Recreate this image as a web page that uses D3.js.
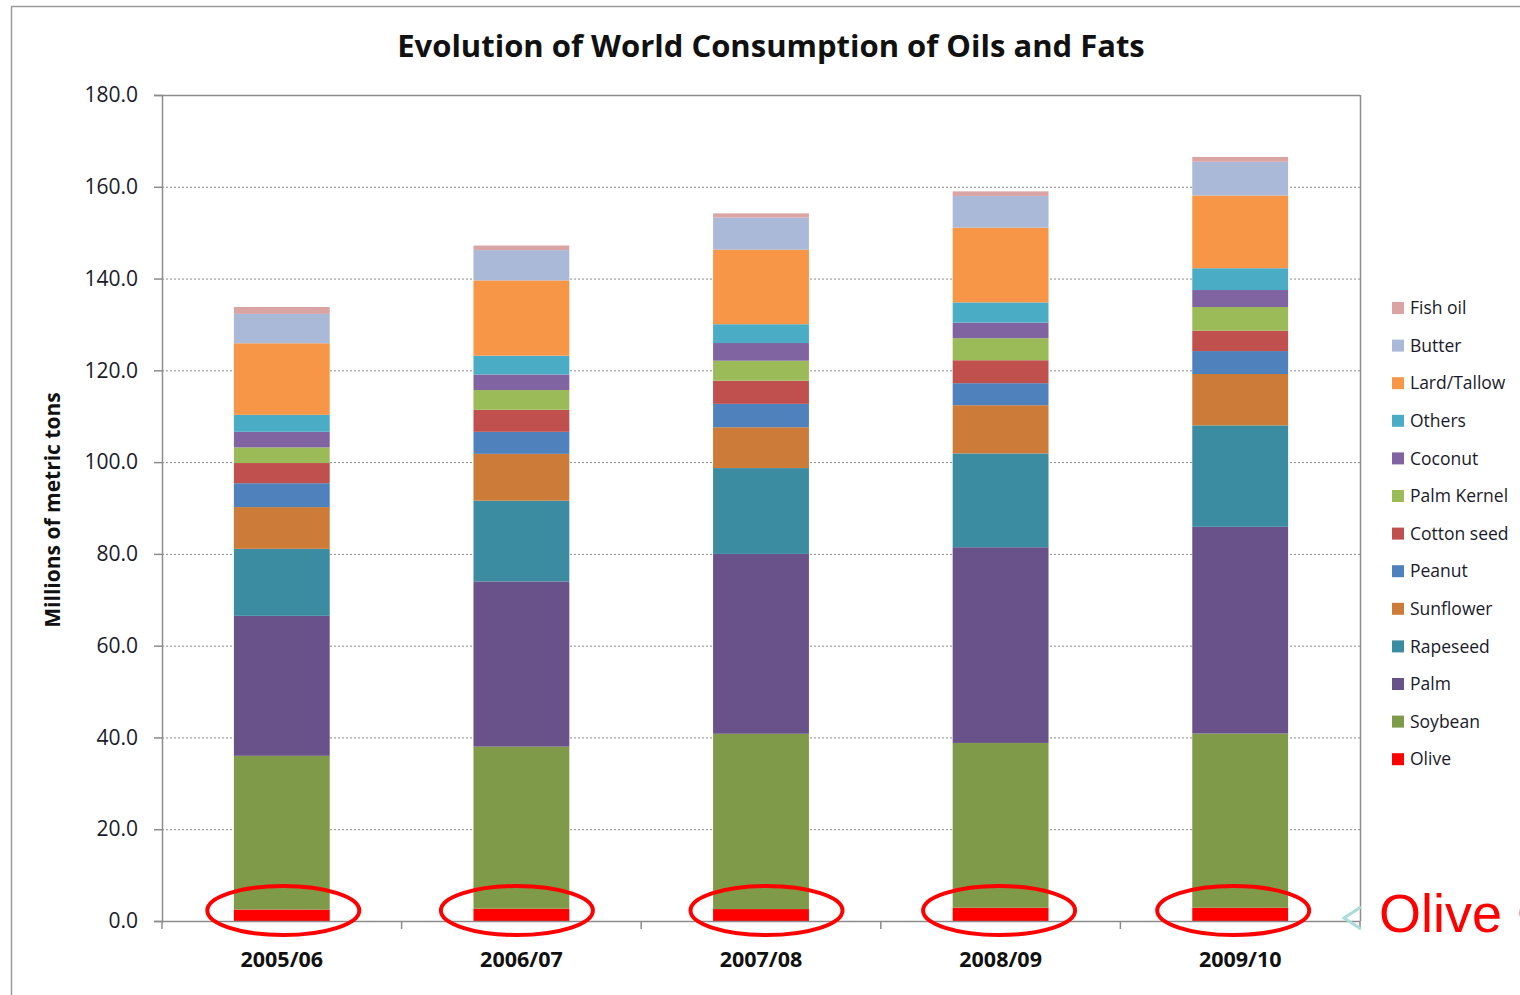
<!DOCTYPE html>
<html><head><meta charset="utf-8">
<script src="https://cdn.jsdelivr.net/npm/d3@7"></script>
<style>body{margin:0;background:#fff;}svg{display:block;}</style>
</head><body>
<svg id="chart" width="1520" height="995"></svg>
<script>
const categories = ["2005/06","2006/07","2007/08","2008/09","2009/10"];
const seriesNames = ["Olive","Soybean","Palm","Rapeseed","Sunflower","Peanut","Cotton seed","Palm Kernel","Coconut","Others","Lard/Tallow","Butter","Fish oil"];
const olive      = [2.5, 2.7, 2.6, 2.9, 2.9];
const soybean    = [33.5, 35.3, 38.2, 35.9, 37.95];
const palm       = [30.5, 36.0, 39.2, 42.65, 45.05];
const rapeseed   = [14.6, 17.6, 18.7, 20.45, 22.1];
const sunflower  = [9.1, 10.2, 8.9, 10.5, 11.2];
const peanut     = [5.2, 4.8, 5.1, 4.8, 5.0];
const cottonseed = [4.4, 4.8, 5.05, 5.0, 4.45];
const palmKernel = [3.4, 4.3, 4.35, 4.8, 5.15];
const coconut    = [3.4, 3.4, 3.85, 3.4, 3.7];
const others     = [3.7, 4.1, 4.1, 4.4, 4.75];
const lardTallow = [15.6, 16.4, 16.25, 16.3, 15.85];
const butter     = [6.4, 6.6, 7.0, 6.9, 7.35];
const fishOil    = [1.5, 1.0, 0.9, 1.0, 1.05];
const yTicks = [0,20,40,60,80,100,120,140,160,180];
const colors = ["#FF0000","#7F9A48","#69518A","#3B8BA1","#CC7B38","#4F81BD","#C0504D","#9BBB59","#8064A2","#4BACC6","#F79646","#AAB9D7","#DBA4A4"];
// hand-drawn annotation ellipses are not exactly centred on the bars
const ellipseShift = [1.5, -4.5, 5.5, -1.5, -7];

const seriesValues = [olive,soybean,palm,rapeseed,sunflower,peanut,cottonseed,palmKernel,coconut,others,lardTallow,butter,fishOil];
const table = categories.map((c,i)=>{const row={cat:c}; seriesNames.forEach((s,j)=>row[s]=seriesValues[j][i]); return row;});
const stacked = d3.stack().keys(seriesNames)(table);

const svg = d3.select("#chart");
const font = "'Open Sans', Lato, sans-serif";
const m = {left:162, top:95, right:1360, bottom:921};

// outer frame
svg.append("rect").attr("x",11.5).attr("y",6.5).attr("width",1600).attr("height",1100)
  .attr("fill","none").attr("stroke","#9a9a9a").attr("stroke-width",1.5);

const x = d3.scaleBand().domain(categories).range([m.left,m.right]).paddingInner(0.6).paddingOuter(0.3);
const xb = d3.scaleBand().domain(categories).range([m.left,m.right]);
const y = d3.scaleLinear().domain([0,180]).range([m.bottom,m.top]);

// gridlines
svg.append("g").selectAll("line").data(yTicks.filter(t=>t>0 && t<180)).join("line")
  .attr("x1",m.left).attr("x2",m.right).attr("y1",d=>y(d)+0.5).attr("y2",d=>y(d)+0.5)
  .attr("stroke","#8c8c8c").attr("stroke-width",1).attr("stroke-dasharray","2,2");

// plot border top & right
svg.append("line").attr("x1",m.left).attr("x2",m.right).attr("y1",m.top+0.5).attr("y2",m.top+0.5).attr("stroke","#8c8c8c").attr("stroke-width",1.5);
svg.append("line").attr("x1",m.right+0.5).attr("x2",m.right+0.5).attr("y1",m.top).attr("y2",m.bottom).attr("stroke","#8c8c8c").attr("stroke-width",1.5);

// bars
svg.append("g").selectAll("g").data(stacked).join("g")
  .attr("fill",(d,i)=>colors[i])
  .selectAll("rect").data(d=>d).join("rect")
  .attr("x",d=>x(d.data.cat)).attr("width",x.bandwidth())
  .attr("y",d=>y(d[1])).attr("height",d=>y(d[0])-y(d[1]));

// y axis
const yAxis = svg.append("g").attr("transform",`translate(${m.left},0)`)
  .call(d3.axisLeft(y).tickValues(yTicks).tickFormat(d3.format(".1f")).tickSize(8).tickPadding(16));
yAxis.select(".domain").attr("stroke","#8c8c8c").attr("stroke-width",1.5);
yAxis.selectAll(".tick line").attr("stroke","#8c8c8c").attr("stroke-width",1.5);
yAxis.selectAll("text").attr("font-family",font).attr("font-size",21).attr("fill","#1a1a2a");

// x axis
const xAxis = svg.append("g").attr("transform",`translate(0,${m.bottom})`)
  .call(d3.axisBottom(x).tickSize(0).tickPadding(31));
xAxis.select(".domain").remove();
xAxis.append("line").attr("x1",m.left).attr("x2",m.right).attr("y1",0.5).attr("y2",0.5).attr("stroke","#8c8c8c").attr("stroke-width",1.5);
xAxis.selectAll("text").attr("font-family",font).attr("font-size",21.5).attr("font-weight","bold").attr("fill","#111");
const bounds = categories.map(c=>xb(c)).concat([m.right]);
xAxis.append("g").selectAll("line").data(bounds).join("line")
  .attr("x1",d=>d).attr("x2",d=>d).attr("y1",0).attr("y2",8).attr("stroke","#8c8c8c").attr("stroke-width",1.5);

// title
svg.append("text").attr("x",771).attr("y",57).attr("text-anchor","middle")
  .attr("font-family",font).attr("font-size",31).attr("font-weight","bold").attr("fill","#111")
  .text("Evolution of World Consumption of Oils and Fats");

// y title
svg.append("text").attr("transform","translate(60,510) rotate(-90)").attr("text-anchor","middle")
  .attr("font-family",font).attr("font-size",21).attr("font-weight","bold").attr("fill","#111")
  .text("Millions of metric tons");

// legend
const legendOrder = seriesNames.slice().reverse();
const lg = svg.append("g").selectAll("g").data(legendOrder).join("g")
  .attr("transform",(d,i)=>`translate(1392,${308 + i*37.6})`);
lg.append("rect").attr("x",0).attr("y",-6).attr("width",12).attr("height",12)
  .attr("fill",d=>colors[seriesNames.indexOf(d)]);
lg.append("text").attr("x",18).attr("y",0).attr("dy","0.35em")
  .attr("font-family",font).attr("font-size",17.5).attr("fill","#1a1a2a").text(d=>d);

// red ellipses highlighting olive
svg.append("g").selectAll("ellipse").data(categories).join("ellipse")
  .attr("cx",(d,i)=>x(d)+x.bandwidth()/2+ellipseShift[i]).attr("cy",910.5).attr("rx",76).attr("ry",24.5)
  .attr("fill","none").attr("stroke","#ff0000").attr("stroke-width",4);

// arrow and label
svg.append("path").attr("d","M1361,907 L1344,918 L1361,929").attr("fill","none")
  .attr("stroke","#a9dbdb").attr("stroke-width",3);
svg.append("text").attr("x",1379).attr("y",932)
  .attr("font-family","'Liberation Sans', Arial, sans-serif").attr("font-size",54).attr("fill","#ff0000")
  .text("Olive Oil");
</script>
</body></html>
